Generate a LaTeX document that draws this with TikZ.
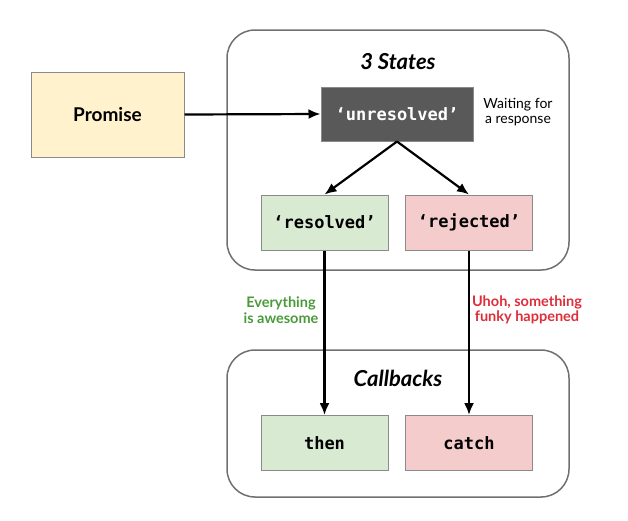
\documentclass[tikz,border=0pt]{standalone}
\usepackage{fontspec}
\setmainfont{Lato}
\newfontfamily\codefont{DejaVu Sans Mono}
\usetikzlibrary{arrows.meta}
\definecolor{promisefill}{HTML}{FFF2CC}
\definecolor{greenfill}{HTML}{D9EAD3}
\definecolor{redfill}{HTML}{F4CCCC}
\definecolor{darkfill}{HTML}{595959}
\definecolor{boxline}{HTML}{8A8A8A}
\definecolor{frameline}{HTML}{707070}
\definecolor{goodtext}{HTML}{4A9A3A}
\definecolor{badtext}{HTML}{DD2E3A}
\tikzset{
  frame/.style={draw=frameline, line width=1.5pt, rounded corners=28pt},
  box/.style={draw=boxline, line width=1pt, minimum width=127pt, minimum height=55pt, inner sep=0pt},
  code/.style={font=\codefont\bfseries\fontsize{17}{20}\selectfont},
  title/.style={font=\bfseries\itshape\fontsize{22}{26}\selectfont},
  note/.style={font=\fontsize{14}{15}\selectfont, align=center},
  conn/.style={line width=2.2pt, -{Latex[length=12pt,width=10pt]}}
}
\begin{document}
\begin{tikzpicture}[x=1pt,y=-1pt]
\useasboundingbox (0,0) rectangle (628,520);
% containers
\draw[frame] (227,30) rectangle (569,270);
\draw[frame] (227,350) rectangle (569,497);
\node[title] (tstates) at (398,62) {3 States};
\node[title] (tcall) at (398,378) {Callbacks};
% nodes
\node[box, fill=promisefill, minimum width=153pt, minimum height=85pt, font=\bfseries\fontsize{19}{22}\selectfont] (promise) at (107.5,114.5) {Promise};
\node[box, fill=darkfill, draw=boxline, minimum width=152pt, minimum height=54pt, code, text=white] (unres) at (397,114) {‘unresolved’};
\node[note, anchor=center] (wait) at (518,112) {Waiting for\\a response};
\node[box, fill=greenfill, code] (res) at (324.5,222.5) {‘resolved’};
\node[box, fill=redfill, code] (rej) at (469,222.5) {‘rejected’};
\node[box, fill=greenfill, code] (then) at (324.5,443) {then};
\node[box, fill=redfill, code] (catch) at (469,443) {catch};
\node[note, text=goodtext, font=\bfseries\fontsize{14.5}{15.5}\selectfont] (good) at (281,310) {Everything\\is awesome};
\node[note, text=badtext, font=\bfseries\fontsize{14.5}{15.5}\selectfont] (bad) at (527,310) {Uhoh, something\\funky happened};
% connectors
\draw[conn] (promise.east) -- (unres.west);
\draw[conn] (unres.south) -- (res.north);
\draw[conn] (unres.south) -- (rej.north);
\draw[conn] (res.south) -- (then.north);
\draw[conn] (rej.south) -- (catch.north);
\end{tikzpicture}
\end{document}
